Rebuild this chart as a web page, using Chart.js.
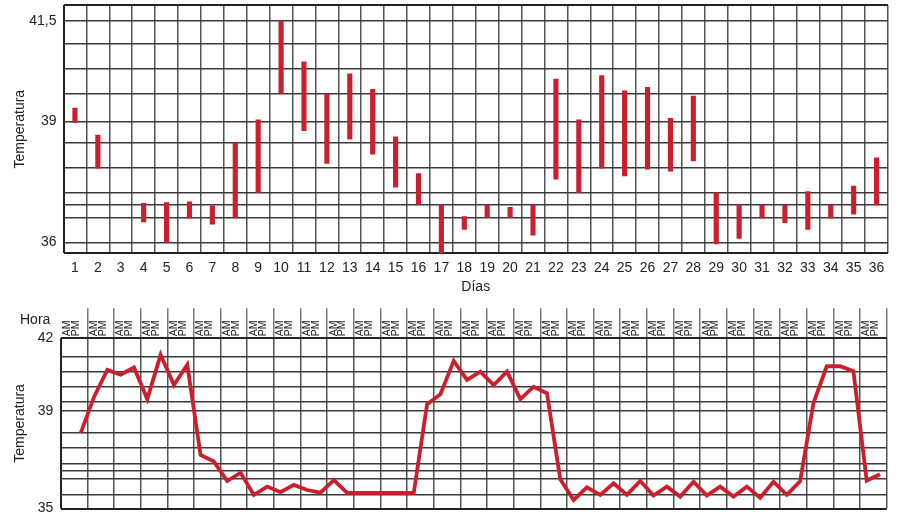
<!DOCTYPE html>
<html><head><meta charset="utf-8">
<script src="https://cdn.jsdelivr.net/npm/chart.js@4/dist/chart.umd.min.js"></script>
<style>
html,body{margin:0;padding:0;background:#fff;}
#wrap{position:relative;width:899px;height:513px;overflow:hidden;font-family:"Liberation Sans",Arial,sans-serif;}
#c1box{position:absolute;left:0;top:0;width:899px;height:298px;}
#c2box{position:absolute;left:0;top:295px;width:899px;height:218px;}
#hora{position:absolute;left:20px;top:311px;font-size:14px;line-height:16px;color:#222;}
</style></head>
<body><div id="wrap">
<div id="c1box"><canvas id="c1"></canvas></div>
<div id="c2box"><canvas id="c2"></canvas></div>
<div id="hora">Hora</div>
</div>
<script>
// ---- Top chart: daily temperature range ----
const days = ['1','2','3','4','5','6','7','8','9','10','11','12','13','14','15','16','17','18',
              '19','20','21','22','23','24','25','26','27','28','29','30','31','32','33','34','35','36'];
const lowTemps  = [38.97,37.84,null,36.51,36.00,36.60,36.45,36.61,37.24,39.70,38.77,37.96,38.56,38.19,37.37,36.95,35.71,36.32,
                   36.62,36.62,36.18,37.57,37.24,37.84,37.65,37.82,37.77,38.02,35.96,36.10,36.60,36.49,36.32,36.60,36.70,36.93];
const highTemps = [39.33,38.66,null,36.97,36.99,37.01,36.91,38.47,39.04,41.50,40.48,39.68,40.18,39.80,38.62,37.71,36.93,36.64,
                   36.93,36.87,36.93,40.05,39.04,40.14,39.76,39.85,39.08,39.63,37.23,36.93,36.93,36.93,37.26,36.93,37.40,38.10];
const topGridValues = [36, 36.62, 36.93, 37.24, 37.85, 38.47, 39, 39.70, 40.32, 40.94, 41.5];
const topTickLabels = [36, 39, 41.5];

// ---- Bottom chart: AM / PM temperature ----
const lineDays = ['1','2','3','4','5','6','7','8','9','10','11','12','13','14','15','16',
                  '17','18','19','20','21','22','23','24','25','26','27','28','29','30','31'];
const shiftLabels = ['AM','PM'];
const lineTemps = [null,38.10, 39.59,40.70, 40.50,40.80, 39.50,41.32, 40.08,40.91, 37.20,36.93, 36.13,36.47, 35.56,35.90,
                   35.67,35.97, 35.76,35.65, 36.17,35.64, 35.64,35.64, 35.64,35.64, 35.64,39.29, 39.70,41.07, 40.29,40.63,
                   40.08,40.63, 39.50,40.01, 39.74,36.20, 35.35,35.87, 35.56,36.04, 35.56,36.13, 35.53,35.90, 35.49,36.10,
                   35.53,35.90, 35.49,35.90, 35.44,36.10, 35.56,36.12, 39.33,40.85, 40.85,40.65, 36.15,36.41];
const bottomGridValues = [35, 35.56, 36.24, 36.56, 36.86, 37.48, 38.10, 39, 39.40, 40.01, 40.63, 41.25, 42];
const bottomTickLabels = [35, 39, 42];

const RED = '#cc1f2d';
const TEXT = '#222';
const FAM = "'Liberation Sans', Arial, sans-serif";
const FONT = {family: FAM, size: 14};
const H_GRID = '#3a3a3a', V_GRID = '#555';
const fmt = v => String(v).replace('.', ',');

// ---------- top chart ----------
const barData = days.map((d, i) => highTemps[i] == null ? null : [lowTemps[i], highTemps[i]]);
new Chart(document.getElementById('c1'), {
  type: 'bar',
  data: {labels: days, datasets: [{data: barData, backgroundColor: RED, borderWidth: 0, barThickness: 4.5}]},
  options: {
    responsive: true, maintainAspectRatio: false, animation: false,
    layout: {padding: {top: 5, right: 11, left: 0, bottom: 0}},
    plugins: {legend: {display: false}, tooltip: {enabled: false}},
    scales: {
      x: {
        offset: true,
        grid: {offset: true, drawTicks: false, color: c => (c.index === 0 || c.index === days.length) ? '#222' : V_GRID,
               lineWidth: c => (c.index === 0 || c.index === days.length) ? 2 : 1.5},
        border: {display: false},
        ticks: {color: TEXT, font: FONT, padding: 6, maxRotation: 0, minRotation: 0, autoSkip: false},
        title: {display: true, text: 'Días', color: TEXT, font: FONT, padding: {top: 0, bottom: 2}},
        afterFit: s => { s.height = 298 - 253.3; s.paddingLeft = 0; s.paddingRight = 0; }
      },
      y: {
        min: 35.73, max: 41.89,
        afterBuildTicks: s => { s.ticks = [35.73, ...topGridValues, 41.89].map(v => ({value: v})); },
        grid: {drawTicks: false, color: c => (c.index === 0 || c.index === topGridValues.length + 1) ? '#222' : H_GRID,
               lineWidth: c => (c.index === 0 || c.index === topGridValues.length + 1) ? 2 : 1.5},
        border: {display: false},
        ticks: {color: TEXT, font: FONT, padding: 7, autoSkip: false,
                callback: v => topTickLabels.includes(v) ? fmt(v) : ''},
        title: {display: true, text: 'Temperatura', color: TEXT, font: FONT, padding: {top: 12, bottom: 0}},
        afterFit: s => { s.width = 63.5; s.paddingTop = 0; s.paddingBottom = 0; }
      }
    }
  }
});

// ---------- bottom chart ----------
const lineCategories = lineDays.flatMap(d => shiftLabels.map(s => d + ' ' + s));
const headerLabels = lineDays.map(() => shiftLabels);
new Chart(document.getElementById('c2'), {
  type: 'line',
  data: {labels: lineCategories, datasets: [{data: lineTemps, borderColor: RED, borderWidth: 3.8,
          pointRadius: 0, tension: 0, fill: false, xAxisID: 'x', yAxisID: 'y'}]},
  options: {
    responsive: true, maintainAspectRatio: false, animation: false,
    layout: {padding: {top: 0, right: 12.3, left: 0, bottom: 4.5}},
    plugins: {legend: {display: false}, tooltip: {enabled: false}},
    scales: {
      x: {type: 'category', offset: true, display: false},
      x2: {
        type: 'category', position: 'top', labels: headerLabels, offset: true,
        grid: {offset: true, tickLength: 30,
               color: c => (c.index === 0 || c.index === lineDays.length) ? '#222' : V_GRID,
               lineWidth: c => (c.index === 0 || c.index === lineDays.length) ? 2 : 1.5,
               tickColor: c => (c.index === 0 || c.index === lineDays.length) ? 'rgba(0,0,0,0)' : '#777',
               tickWidth: 1.5},
        border: {display: false},
        ticks: {color: TEXT, font: {family: FAM, size: 10.5, lineHeight: 0.85}, padding: -28, labelOffset: 11,
                minRotation: 90, maxRotation: 90, autoSkip: false},
        afterFit: s => { s.height = 338.3 - 295; s.paddingLeft = 0; s.paddingRight = 0; }
      },
      y: {
        min: 35, max: 42,
        afterBuildTicks: s => { s.ticks = bottomGridValues.map(v => ({value: v})); },
        grid: {drawTicks: false, color: c => (c.index === 0 || c.index === bottomGridValues.length - 1) ? '#222' : H_GRID,
               lineWidth: c => (c.index === 0 || c.index === bottomGridValues.length - 1) ? 2 : 1.5},
        border: {display: false},
        ticks: {color: TEXT, font: FONT, padding: 7.4, autoSkip: false,
                callback: v => bottomTickLabels.includes(v) ? fmt(v) : ''},
        title: {display: true, text: 'Temperatura', color: TEXT, font: FONT, padding: {top: 12, bottom: 0}},
        afterFit: s => { s.width = 60.7; s.paddingTop = 0; s.paddingBottom = 0; }
      }
    }
  }
});
</script>
</body></html>
